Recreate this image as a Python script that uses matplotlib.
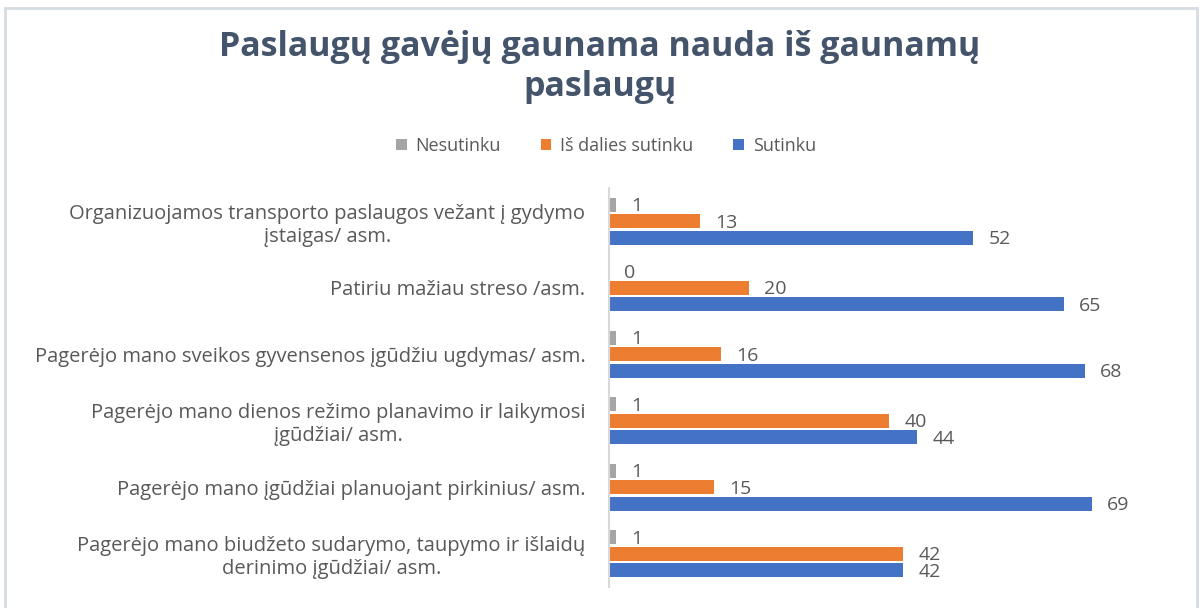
import numpy as np
import matplotlib.pyplot as plt
from matplotlib.patches import Rectangle

plt.rcParams['font.family'] = ['Open Sans', 'DejaVu Sans']

categories = [
    "Organizuojamos transporto paslaugos vežant į gydymo\nįstaigas/ asm.",
    "Patiriu mažiau streso /asm.",
    "Pagerėjo mano sveikos gyvensenos įgūdžiu ugdymas/ asm.",
    "Pagerėjo mano dienos režimo planavimo ir laikymosi\nįgūdžiai/ asm.",
    "Pagerėjo mano įgūdžiai planuojant pirkinius/ asm.",
    "Pagerėjo mano biudžeto sudarymo, taupymo ir išlaidų\nderinimo įgūdžiai/ asm.",
]
nesutinku = [1, 0, 1, 1, 1, 1]
is_dalies = [13, 20, 16, 40, 15, 42]
sutinku = [52, 65, 68, 44, 69, 42]

series = [
    ("Nesutinku", nesutinku, "#A5A5A5"),
    ("Iš dalies sutinku", is_dalies, "#ED7D31"),
    ("Sutinku", sutinku, "#4472C4"),
]

text_col = "#595959"

fig = plt.figure(figsize=(12, 6.08), dpi=100)
ax = fig.add_axes([609 / 1200, 21 / 608, 581 / 1200, 399 / 608])

y = np.arange(len(categories))
step = 0.25
for k, (name, vals, col) in enumerate(series):
    pos = y + (k - 1) * step
    bars = ax.barh(pos, vals, height=0.21, color=col, label=name)
    for b, v in zip(bars, vals):
        ax.annotate(str(v), (v, b.get_y() + b.get_height() / 2),
                    xytext=(11, -1), textcoords="offset points",
                    va="center", ha="left", fontsize=14, color=text_col)

ax.set_xlim(0, 83)
ax.set_ylim(len(categories) - 0.5, -0.5)
ax.set_yticks(y)
ax.set_yticklabels(categories, fontsize=14.5, color=text_col,
                   multialignment="center", linespacing=1.2)
ax.tick_params(axis="y", length=0, pad=17)
ax.set_xticks([])
for s in ["top", "right", "bottom"]:
    ax.spines[s].set_visible(False)
ax.spines["left"].set_color("#D9D9D9")
ax.spines["left"].set_linewidth(1.5)

fig.text(0.5, 1 - 67 / 608, "Paslaugų gavėjų gaunama nauda iš gaunamų\npaslaugų",
         ha="center", va="center", fontsize=24.5, fontweight="bold",
         color="#44546A", linespacing=1.2)

handles, labels = ax.get_legend_handles_labels()
fig.legend(handles, labels, loc="center", bbox_to_anchor=(0.505, 1 - 146 / 608),
           ncol=3, frameon=False, fontsize=13, handlelength=0.6,
           handleheight=0.6, handletextpad=0.5, columnspacing=2.2,
           labelcolor=text_col)

fig.patches.append(Rectangle((5 / 1200, -0.02), 1192 / 1200, 1 - 8 / 608 + 0.02,
                             transform=fig.transFigure, fill=False,
                             edgecolor="#D6DCE4", linewidth=2))

fig.savefig("out.png", dpi=100)
